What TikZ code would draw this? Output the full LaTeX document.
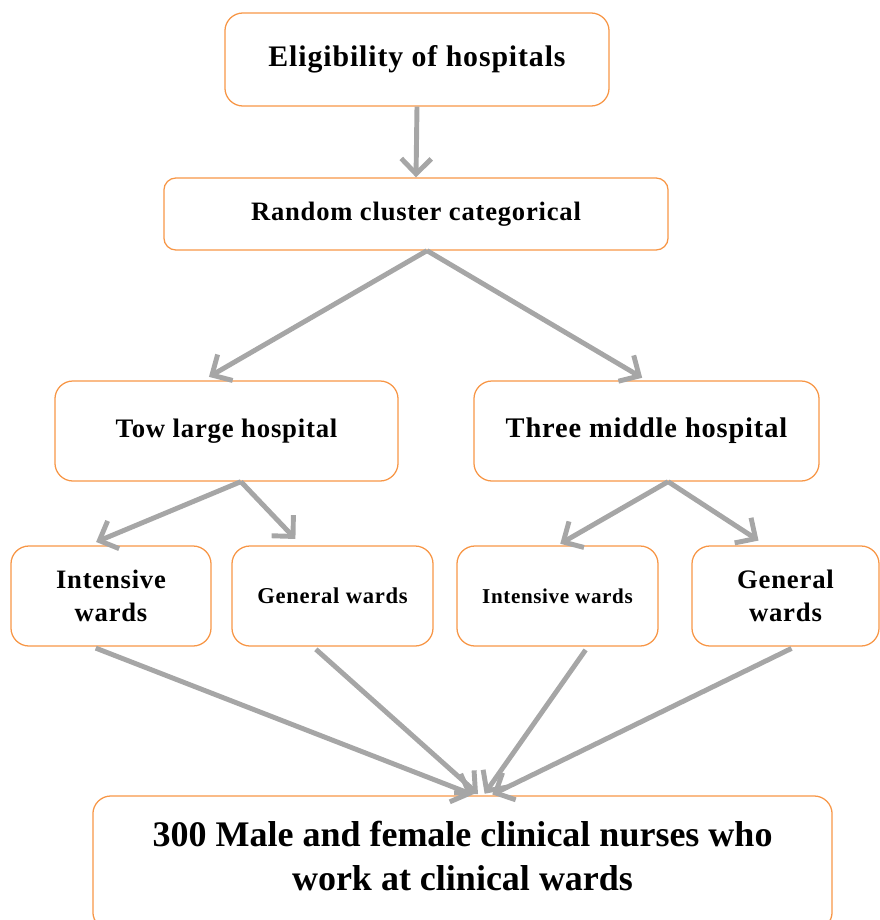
\documentclass[tikz,border=0pt]{standalone}
\usepackage{fontspec}
\setmainfont{Liberation Serif}
\newfontfamily\spacedfont{Liberation Serif}[LetterSpace=3]
\usetikzlibrary{arrows.meta,positioning}

\definecolor{boxorange}{RGB}{247,150,70}
\definecolor{arrowgray}{RGB}{166,166,166}

\tikzset{
  stagebox/.style={draw=boxorange, line width=0.9pt, rounded corners=0.45cm, align=center, inner sep=2pt},
  flowarrow/.style={draw=arrowgray, line width=3.5pt, -{Straight Barb[length=0.38cm,width=0.75cm]}},
}

\begin{document}
\begin{tikzpicture}[x=0.025cm, y=-0.025cm]
\useasboundingbox (0,0) rectangle (880,920);

% ==== Top levels ====
\node[stagebox, minimum width=9.6cm, minimum height=2.325cm, font={\spacedfont\bfseries\fontsize{21.2}{25}\selectfont}] (elig) at (417,59.5) {Eligibility of hospitals};
\node[stagebox, rounded corners=0.3cm, minimum width=12.6cm, minimum height=1.8cm, font={\spacedfont\bfseries\fontsize{18.9}{22}\selectfont}] (rand) at (416,214) {Random cluster categorical};

% ==== Hospitals ====
\node[stagebox, minimum width=8.575cm, minimum height=2.5cm, font={\spacedfont\bfseries\fontsize{19}{22}\selectfont}] (tow) at (226.5,431) {Tow large hospital};
\node[stagebox, minimum width=8.625cm, minimum height=2.5cm, font={\spacedfont\bfseries\fontsize{20.2}{24}\selectfont}] (three) at (646.5,431) {Three middle hospital};

% ==== Wards ====
\node[stagebox, minimum width=5cm, minimum height=2.5cm, font={\spacedfont\bfseries\fontsize{18.9}{23.5}\selectfont}] (intL) at (111,596) {Intensive\\wards};
\node[stagebox, minimum width=5.025cm, minimum height=2.5cm, font={\spacedfont\bfseries\fontsize{16.1}{19}\selectfont}] (genL) at (332.5,596) {General wards};
\node[stagebox, minimum width=5.025cm, minimum height=2.5cm, font={\spacedfont\bfseries\fontsize{15}{18}\selectfont}] (intR) at (557.5,596) {Intensive wards};
\node[stagebox, minimum width=4.675cm, minimum height=2.5cm, font={\spacedfont\bfseries\fontsize{19}{23.5}\selectfont}] (genR) at (785.5,596) {General\\wards};

% ==== Sample ====
\node[stagebox, minimum width=18.475cm, minimum height=3.35cm, text depth=0.35cm, font={\bfseries\fontsize{25.6}{31.3}\selectfont}] (nurses) at (462.5,863) {300 Male and female clinical nurses who\\work at clinical wards};

% Arrows between levels
\draw[flowarrow] (elig.south) -- (rand.north);
\draw[flowarrow, shorten >=0.175cm] ([xshift=0.275cm]rand.south) -- ([xshift=-0.59cm]tow.north);
\draw[flowarrow, shorten >=0.125cm] ([xshift=0.275cm]rand.south) -- (three.north);

\draw[flowarrow, shorten >=0.22cm] ([xshift=0.36cm]tow.south) -- ([xshift=-0.575cm]intL.north);
\draw[flowarrow, shorten >=0.22cm] ([xshift=0.36cm]tow.south) -- ([xshift=-0.775cm]genL.north);
\draw[flowarrow, shorten >=0.08cm] ([xshift=0.54cm]three.south) -- (intR.north);
\draw[flowarrow, shorten >=0.22cm] ([xshift=0.54cm]three.south) -- ([xshift=-0.49cm]genR.north);

% Wards into the sample
\foreach \ward/\from/\to in {intL/-0.475/0.3, genL/-0.49/0.425, intR/0.76/0.525, genR/0.24/0.7}
    \draw[flowarrow, shorten <=0.1cm, shorten >=0.05cm] ([xshift=\from cm]\ward.south) -- ([xshift=\to cm]nurses.north);

\end{tikzpicture}
\end{document}
